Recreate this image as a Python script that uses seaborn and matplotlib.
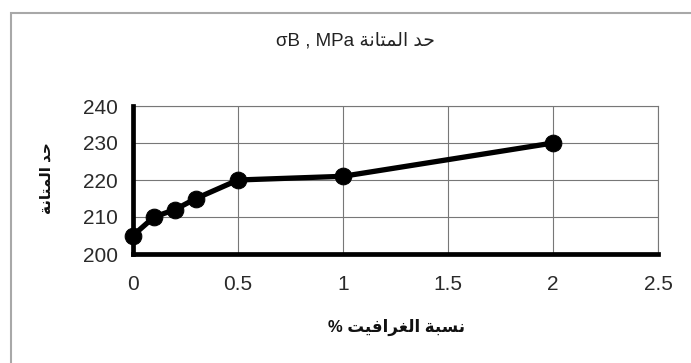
import unicodedata
import pandas as pd
import seaborn as sns
import matplotlib
matplotlib.use("Agg")
from matplotlib import pyplot as plt
from matplotlib.patches import Rectangle

graphite = [0, 0.1, 0.2, 0.3, 0.5, 1, 2]
strength = [205, 210, 212, 215, 220, 221, 230]
xticks = [0, 0.5, 1, 1.5, 2, 2.5]
yticks = [200, 210, 220, 230, 240]

titre_ar = "حد المتانة"
xlabel_ar = "نسبة الغرافيت"
ylabel_ar = "حد المتانة"

# letters that never connect to the following letter
NO_LEFT = set("اأإآدذرزوة")


def forme(ch, forme_nom):
    try:
        return unicodedata.lookup(unicodedata.name(ch) + " " + forme_nom + " FORM")
    except KeyError:
        return ch


def arabe(texte):
    # simple shaping + reversal, matplotlib does no bidi/shaping itself
    out = []
    for i, ch in enumerate(texte):
        if not ("\u0600" <= ch <= "\u06ff"):
            out.append(ch)
            continue
        prev = texte[i - 1] if i > 0 else " "
        nxt = texte[i + 1] if i + 1 < len(texte) else " "
        lie_avant = "\u0600" <= prev <= "\u06ff" and prev not in NO_LEFT
        lie_apres = "\u0600" <= nxt <= "\u06ff" and ch not in NO_LEFT
        if lie_avant and lie_apres:
            out.append(forme(ch, "MEDIAL"))
        elif lie_avant:
            out.append(forme(ch, "FINAL"))
        elif lie_apres:
            out.append(forme(ch, "INITIAL"))
        else:
            out.append(forme(ch, "ISOLATED"))
    return "".join(out)[::-1]


df = pd.DataFrame({"x": graphite, "y": strength})

sns.set_style("white")
plt.rcParams["font.family"] = ["Liberation Sans", "DejaVu Sans"]

fig = plt.figure(figsize=(6.91, 3.63), dpi=100)
fig.patches.append(Rectangle((11 / 691, -0.1), 1.2, 1 - 13 / 363 + 0.1, transform=fig.transFigure,
                             fill=False, edgecolor="#a8a8a8", linewidth=1.5))
ax = fig.add_axes([133 / 691, 109 / 363, 525 / 691, 148 / 363])

sns.lineplot(data=df, x="x", y="y", ax=ax, color="black", linewidth=3.8,
             marker="o", markersize=12, markeredgecolor="black", clip_on=False, zorder=5)

ax.set_xlim(0, 2.5)
ax.set_ylim(200, 240)
ax.set_xticks(xticks)
ax.set_xticklabels([f"{t:g}" for t in xticks])
ax.set_yticks(yticks)
ax.grid(True, color="#777777", linewidth=0.8)
ax.set_axisbelow(True)

for s in ["left", "bottom"]:
    ax.spines[s].set_color("black")
    ax.spines[s].set_linewidth(3.4)
    ax.spines[s].set_zorder(4)
for s in ["top", "right"]:
    ax.spines[s].set_color("#777777")
    ax.spines[s].set_linewidth(0.8)

ax.tick_params(axis="both", direction="out", length=5, width=2.5, color="black",
               labelsize=15, labelcolor="#2a2a2a", pad=6)
ax.tick_params(axis="x", pad=10)
ax.set_xlabel("")
ax.set_ylabel("")

fig.text(355 / 691, 1 - 41 / 363, "σB , MPa " + arabe(titre_ar), ha="center", va="center",
         fontsize=13.5, color="#222222")
fig.text(397 / 691, 1 - 327 / 363, "% " + arabe(xlabel_ar), ha="center", va="center",
         fontsize=12, fontweight="bold", color="#111111")
fig.text(47 / 691, 1 - 178 / 363, arabe(ylabel_ar), ha="center", va="center", rotation=90,
         fontsize=11, fontweight="bold", color="#111111")

fig.savefig("out.png", dpi=100)
